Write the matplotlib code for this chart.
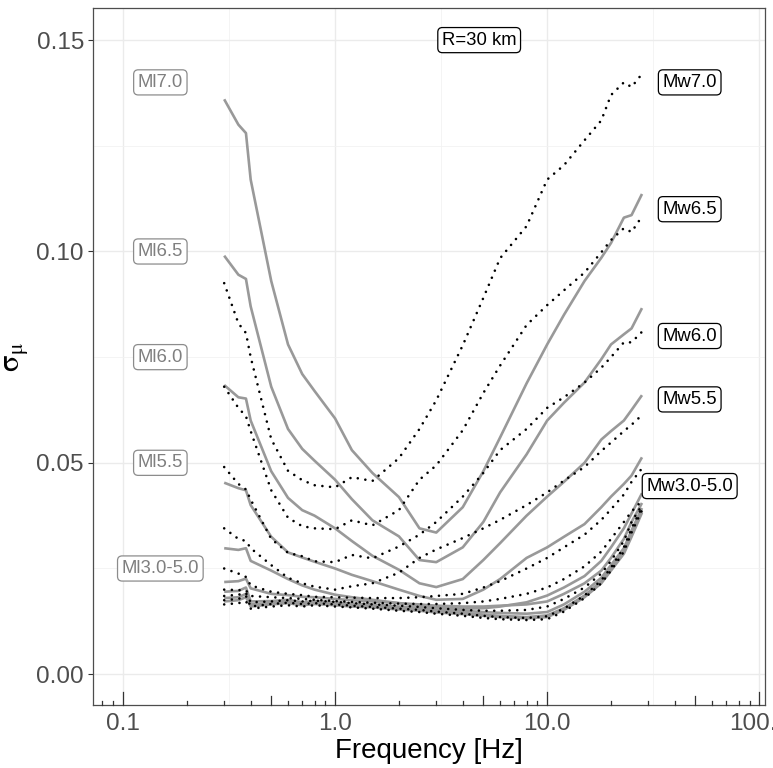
import matplotlib
matplotlib.use("Agg")
import matplotlib.pyplot as plt
from matplotlib.ticker import FixedLocator, NullFormatter

plt.rcParams['font.family'] = ['Liberation Sans', 'DejaVu Sans']
plt.rcParams['mathtext.fontset'] = 'stix'

# frequency grid [Hz]
freq = [0.3, 0.35, 0.38, 0.4, 0.5, 0.6, 0.7, 0.8, 1.0, 1.2, 1.5, 2.0, 2.5,
        3.0, 4.0, 5.0, 6.0, 8.0, 10, 12, 15, 18, 20, 23, 25, 28]

# sigma_mu, local magnitude Ml (grey solid)
ml_7_0 = [0.136, 0.130, 0.128, 0.117, 0.093, 0.078, 0.071, 0.067, 0.0605, 0.053, 0.0476, 0.0419, 0.0345,
          0.0335, 0.0395, 0.048, 0.056, 0.0688, 0.078, 0.085, 0.093, 0.0985, 0.102, 0.108, 0.1086, 0.1136]
ml_6_5 = [0.099, 0.0945, 0.0935, 0.087, 0.068, 0.058, 0.0533, 0.0505, 0.046, 0.0414, 0.0364, 0.0326, 0.027,
          0.0265, 0.030, 0.036, 0.043, 0.052, 0.060, 0.0642, 0.069, 0.0745, 0.078, 0.0804, 0.0818, 0.0866]
ml_6_0 = [0.0684, 0.0655, 0.0652, 0.060, 0.048, 0.0417, 0.0388, 0.0375, 0.0345, 0.0315, 0.028, 0.0247, 0.0215,
          0.0206, 0.0225, 0.027, 0.031, 0.0375, 0.042, 0.0455, 0.050, 0.0555, 0.0575, 0.060, 0.0625, 0.066]
ml_5_5 = [0.0453, 0.044, 0.0435, 0.040, 0.0325, 0.0288, 0.0276, 0.0266, 0.025, 0.0235, 0.022, 0.020, 0.0185,
          0.0176, 0.0178, 0.020, 0.0225, 0.0275, 0.030, 0.0325, 0.0355, 0.0395, 0.042, 0.045, 0.047, 0.0513]
ml_5_0 = [0.0298, 0.0294, 0.0298, 0.0268, 0.0245, 0.0225, 0.0210, 0.0200, 0.0188, 0.0182, 0.0176, 0.0168, 0.0162,
          0.0158, 0.0155, 0.0156, 0.0160, 0.0170, 0.0186, 0.0205, 0.0232, 0.0268, 0.0300, 0.0345, 0.0380, 0.0428]
ml_4_5 = [0.0218, 0.0220, 0.0226, 0.0203, 0.0190, 0.0187, 0.0183, 0.0182, 0.0178, 0.0175, 0.0172, 0.0168, 0.0165,
          0.0162, 0.0160, 0.0160, 0.0162, 0.0165, 0.0172, 0.0190, 0.0215, 0.0245, 0.0275, 0.0320, 0.0360, 0.0405]
ml_4_0 = [0.0195, 0.0197, 0.0205, 0.0172, 0.0173, 0.0176, 0.0170, 0.0173, 0.0170, 0.0167, 0.0165, 0.0160, 0.0157,
          0.0153, 0.0150, 0.0147, 0.0145, 0.0143, 0.0147, 0.0165, 0.0195, 0.0228, 0.0258, 0.0298, 0.0340, 0.0393]
ml_3_5 = [0.0180, 0.0182, 0.0190, 0.0165, 0.0168, 0.0171, 0.0166, 0.0169, 0.0166, 0.0163, 0.0161, 0.0156, 0.0153,
          0.0149, 0.0145, 0.0141, 0.0138, 0.0135, 0.0139, 0.0156, 0.0186, 0.0220, 0.0250, 0.0290, 0.0330, 0.0387]
ml_3_0 = [0.0172, 0.0175, 0.0182, 0.0160, 0.0165, 0.0168, 0.0163, 0.0166, 0.0163, 0.0160, 0.0158, 0.0153, 0.0150,
          0.0146, 0.0142, 0.0138, 0.0135, 0.0132, 0.0135, 0.0152, 0.0182, 0.0215, 0.0245, 0.0285, 0.0325, 0.0382]

# sigma_mu, moment magnitude Mw (black dotted)
mw_7_0 = [0.0925, 0.083, 0.0807, 0.075, 0.0556, 0.0481, 0.0459, 0.0447, 0.0442, 0.0466, 0.0457, 0.0511, 0.058,
          0.0648, 0.0778, 0.089, 0.0984, 0.106, 0.117, 0.1204, 0.1263, 0.131, 0.137, 0.140, 0.1389, 0.142]
mw_6_5 = [0.068, 0.063, 0.061, 0.0575, 0.0435, 0.037, 0.035, 0.0345, 0.0343, 0.0364, 0.0352, 0.0388, 0.046,
          0.0494, 0.0577, 0.0665, 0.073, 0.0826, 0.0873, 0.0908, 0.095, 0.0998, 0.1027, 0.1055, 0.1046, 0.1083]
mw_6_0 = [0.049, 0.045, 0.0437, 0.0413, 0.032, 0.0287, 0.0279, 0.0267, 0.0265, 0.0282, 0.0274, 0.0302, 0.033,
          0.036, 0.042, 0.0476, 0.053, 0.058, 0.063, 0.0655, 0.069, 0.0725, 0.075, 0.0785, 0.0785, 0.081]
mw_5_5 = [0.0345, 0.032, 0.0315, 0.0298, 0.0258, 0.0228, 0.0215, 0.0207, 0.020, 0.0208, 0.0215, 0.024, 0.0275,
          0.0295, 0.0322, 0.0345, 0.0365, 0.040, 0.043, 0.0458, 0.049, 0.0528, 0.0548, 0.0575, 0.059, 0.0613]
mw_5_0 = [0.025, 0.0238, 0.023, 0.021, 0.0195, 0.019, 0.0187, 0.0183, 0.0182, 0.0181, 0.018, 0.018, 0.0182,
          0.0185, 0.019, 0.0205, 0.022, 0.025, 0.0275, 0.030, 0.033, 0.0365, 0.039, 0.0425, 0.0455, 0.0487]
mw_4_5 = [0.0200, 0.0199, 0.0198, 0.0185, 0.0182, 0.0180, 0.0178, 0.0176, 0.0173, 0.0171, 0.0169, 0.0167, 0.0166,
          0.0166, 0.0168, 0.0172, 0.0178, 0.0190, 0.0205, 0.0225, 0.0255, 0.0290, 0.0320, 0.0360, 0.0385, 0.0410]
mw_4_0 = [0.0185, 0.0188, 0.0192, 0.0170, 0.0172, 0.0175, 0.0172, 0.0174, 0.0171, 0.0168, 0.0165, 0.0162, 0.0159,
          0.0156, 0.0152, 0.0150, 0.0150, 0.0152, 0.0160, 0.0178, 0.0205, 0.0238, 0.0268, 0.0315, 0.0360, 0.0400]
mw_3_5 = [0.0175, 0.0178, 0.0185, 0.0160, 0.0166, 0.0169, 0.0166, 0.0168, 0.0165, 0.0162, 0.0159, 0.0155, 0.0152,
          0.0148, 0.0143, 0.0138, 0.0135, 0.0133, 0.0137, 0.0155, 0.0186, 0.0222, 0.0252, 0.0300, 0.0345, 0.0395]
mw_3_0 = [0.0165, 0.0168, 0.0172, 0.0155, 0.0160, 0.0163, 0.0160, 0.0163, 0.0160, 0.0158, 0.0155, 0.0150, 0.0147,
          0.0143, 0.0138, 0.0133, 0.0130, 0.0128, 0.0130, 0.0148, 0.0180, 0.0215, 0.0245, 0.0290, 0.0335, 0.0388]

ml_curves = [ml_7_0, ml_6_5, ml_6_0, ml_5_5, ml_5_0, ml_4_5, ml_4_0, ml_3_5, ml_3_0]
mw_curves = [mw_7_0, mw_6_5, mw_6_0, mw_5_5, mw_5_0, mw_4_5, mw_4_0, mw_3_5, mw_3_0]

# curve labels
ml_labels = ['Ml7.0', 'Ml6.5', 'Ml6.0', 'Ml5.5', 'Ml3.0-5.0']
ml_label_y = [0.140, 0.100, 0.075, 0.050, 0.025]
mw_labels = ['Mw7.0', 'Mw6.5', 'Mw6.0', 'Mw5.5', 'Mw3.0-5.0']
mw_label_y = [0.140, 0.110, 0.080, 0.065, 0.0445]
ml_label_x = 0.15
mw_label_x = 47.0

fig = plt.figure(figsize=(7.73, 7.68), dpi=100)
ax = fig.add_axes([0.1203, 0.082, 0.8694, 0.9076])

GREY = '#999999'
for ys in ml_curves:
    ax.plot(freq, ys, color=GREY, lw=1.9, solid_capstyle='butt', zorder=3)
for ys in mw_curves:
    ax.plot(freq, ys, color='black', lw=1.9, dashes=(0.01, 2.9),
            dash_capstyle='round', zorder=4)

box_grey = dict(boxstyle='round,pad=0.22,rounding_size=0.25', fc='white', ec='#8c8c8c', lw=0.9)
box_black = dict(boxstyle='round,pad=0.22,rounding_size=0.25', fc='white', ec='black', lw=0.9)
for lab, y in zip(ml_labels, ml_label_y):
    ax.text(ml_label_x, y, lab, ha='center', va='center', fontsize=13.3, color='#7f7f7f',
            bbox=box_grey, zorder=6)
for lab, y in zip(mw_labels, mw_label_y):
    ax.text(mw_label_x, y, lab, ha='center', va='center', fontsize=13.3, color='black',
            bbox=box_black, zorder=6)
ax.text(4.78, 0.150, 'R=30 km', ha='center', va='center', fontsize=13.3, color='black',
        bbox=box_black, zorder=6)

# axes
ax.set_xscale('log')
ax.set_xlim(0.0722, 106.5)
ax.set_ylim(-0.0073, 0.1576)

ax.xaxis.set_major_locator(FixedLocator([0.1, 1, 10, 100]))
ax.set_xticklabels(['0.1', '1.0', '10.0', '100.0'])
ax.xaxis.set_minor_locator(FixedLocator([10 ** (k + 0.5) for k in (-2, -1, 0, 1, 2)]))
ax.xaxis.set_minor_formatter(NullFormatter())
ax.yaxis.set_major_locator(FixedLocator([0.0, 0.05, 0.10, 0.15]))
ax.set_yticklabels(['0.00', '0.05', '0.10', '0.15'])
ax.yaxis.set_minor_locator(FixedLocator([0.025, 0.075, 0.125]))

ax.grid(True, which='major', color='#ebebeb', lw=1.0, zorder=0)
ax.grid(True, which='minor', color='#f2f2f2', lw=0.6, zorder=0)
ax.set_axisbelow(True)

ax.tick_params(axis='x', which='both', length=0, labelsize=17.5, labelcolor='#4d4d4d', pad=6)
ax.tick_params(axis='y', which='major', length=3.5, width=0.8, color='#333333',
               labelsize=17.5, labelcolor='#4d4d4d', pad=3)
ax.tick_params(axis='y', which='minor', length=0)

for sp in ax.spines.values():
    sp.set_color('#4d4d4d')
    sp.set_linewidth(0.9)

# log ticks along the bottom, pointing into the panel
xt = ax.get_xaxis_transform()
h = 1.0 / 697
for dec in [0.01, 0.1, 1, 10]:
    for m in range(1, 10):
        v = m * dec
        if v < 0.0722 or v > 106.5:
            continue
        L = 13 if m == 1 else (9 if m == 5 else 4)
        ax.plot([v, v], [0, L * h], color='#333333', lw=0.9, transform=xt, clip_on=False, zorder=5)
ax.plot([100, 100], [0, 13 * h], color='#333333', lw=0.9, transform=xt, clip_on=False, zorder=5)

ax.set_xlabel('Frequency [Hz]', fontsize=20, color='black', labelpad=2)
ax.set_ylabel(r'$\mathrm{\sigma_\mu}$', fontsize=22, color='black', labelpad=4)

fig.savefig('out.png', dpi=100)
